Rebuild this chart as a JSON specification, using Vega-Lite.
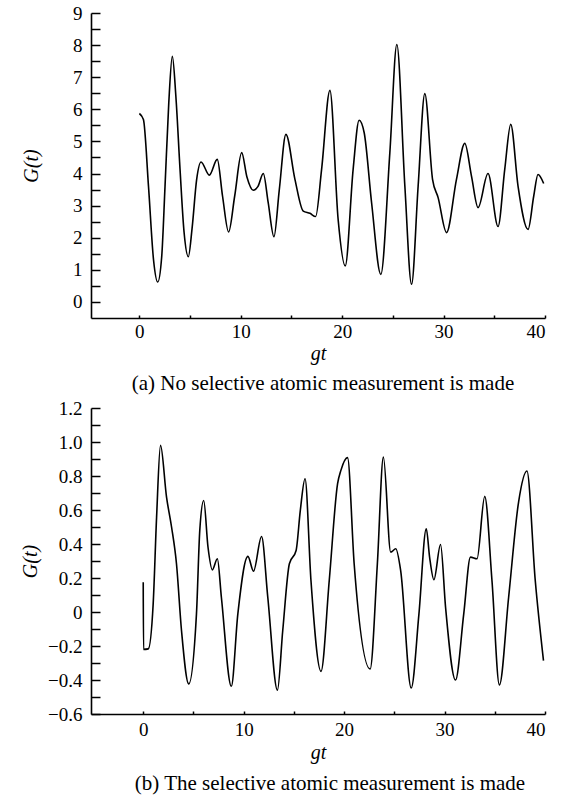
{
  "$schema": "https://vega.github.io/schema/vega-lite/v6.json",
  "background": "white",
  "padding": {"left": 20, "top": 4, "right": 5, "bottom": 5},
  "spacing": 5,
  "config": {
    "view": {"stroke": null},
    "font": "'Liberation Serif', 'Times New Roman', 'DejaVu Serif', serif",
    "axis": {
      "grid": false,
      "domainColor": "black",
      "domainWidth": 1.6,
      "tickColor": "black",
      "tickWidth": 1.5,
      "labelFont": "'Liberation Serif', 'Times New Roman', 'DejaVu Serif', serif",
      "labelFontSize": 19,
      "labelColor": "black",
      "titleFont": "'Liberation Serif', 'Times New Roman', 'DejaVu Serif', serif",
      "titleFontSize": 20,
      "titleFontWeight": "normal",
      "titleFontStyle": "italic",
      "titleColor": "black"
    },
    "title": {"font": "'Liberation Serif', 'Times New Roman', 'DejaVu Serif', serif", "fontSize": 21, "fontWeight": "normal", "color": "black"}
  },
  "datasets": {
    "a": [
      {"x": 0.0, "y": 5.87}, {"x": 0.4, "y": 5.68}, {"x": 0.9, "y": 3.6}, {"x": 1.4, "y": 1.3},
      {"x": 1.81, "y": 0.62}, {"x": 2.2, "y": 1.4}, {"x": 2.53, "y": 3.6}, {"x": 2.9, "y": 6.2},
      {"x": 3.25, "y": 7.65}, {"x": 3.6, "y": 6.4}, {"x": 4.01, "y": 4.13}, {"x": 4.4, "y": 2.2},
      {"x": 4.83, "y": 1.41}, {"x": 5.2, "y": 2.3}, {"x": 5.65, "y": 3.82}, {"x": 6.08, "y": 4.36},
      {"x": 6.9, "y": 3.95}, {"x": 7.68, "y": 4.44}, {"x": 8.2, "y": 3.3}, {"x": 8.8, "y": 2.18},
      {"x": 9.4, "y": 3.3}, {"x": 10.09, "y": 4.65}, {"x": 10.6, "y": 3.9}, {"x": 11.23, "y": 3.48},
      {"x": 11.7, "y": 3.6}, {"x": 12.22, "y": 4.0}, {"x": 12.7, "y": 3.1}, {"x": 13.27, "y": 2.03},
      {"x": 13.8, "y": 3.5}, {"x": 14.45, "y": 5.22}, {"x": 15.34, "y": 3.82}, {"x": 16.16, "y": 2.83},
      {"x": 16.82, "y": 2.76}, {"x": 17.38, "y": 2.66}, {"x": 17.97, "y": 4.13}, {"x": 18.79, "y": 6.59},
      {"x": 19.6, "y": 2.57}, {"x": 20.3, "y": 1.12}, {"x": 21.08, "y": 4.13}, {"x": 21.67, "y": 5.66},
      {"x": 22.17, "y": 5.27}, {"x": 22.9, "y": 3.09}, {"x": 23.81, "y": 0.86}, {"x": 24.7, "y": 4.65},
      {"x": 25.39, "y": 8.02}, {"x": 26.18, "y": 3.61}, {"x": 26.84, "y": 0.55}, {"x": 27.49, "y": 3.61},
      {"x": 28.15, "y": 6.49}, {"x": 28.91, "y": 3.82}, {"x": 29.46, "y": 3.25}, {"x": 30.29, "y": 2.16},
      {"x": 31.27, "y": 3.82}, {"x": 32.09, "y": 4.94}, {"x": 32.75, "y": 3.92}, {"x": 33.4, "y": 2.94},
      {"x": 34.38, "y": 4.0}, {"x": 35.37, "y": 2.35}, {"x": 36.03, "y": 4.13}, {"x": 36.62, "y": 5.53},
      {"x": 37.34, "y": 3.61}, {"x": 38.33, "y": 2.26}, {"x": 38.89, "y": 3.3}, {"x": 39.31, "y": 3.97},
      {"x": 39.87, "y": 3.69}
    ],
    "b": [
      {"x": 0.0, "y": 0.175}, {"x": 0.03, "y": -0.22}, {"x": 0.5, "y": -0.217}, {"x": 0.99, "y": 0.048},
      {"x": 1.33, "y": 0.558}, {"x": 1.72, "y": 0.98}, {"x": 2.32, "y": 0.676}, {"x": 2.82, "y": 0.5},
      {"x": 3.31, "y": 0.284}, {"x": 3.81, "y": -0.109}, {"x": 4.53, "y": -0.423}, {"x": 5.3, "y": -0.011},
      {"x": 5.63, "y": 0.48}, {"x": 6.02, "y": 0.656}, {"x": 6.45, "y": 0.381}, {"x": 6.88, "y": 0.248},
      {"x": 7.38, "y": 0.313}, {"x": 7.78, "y": 0.087}, {"x": 8.77, "y": -0.437}, {"x": 9.42, "y": -0.011},
      {"x": 10.42, "y": 0.327}, {"x": 10.98, "y": 0.24}, {"x": 11.78, "y": 0.444}, {"x": 12.4, "y": 0.087},
      {"x": 13.36, "y": -0.46}, {"x": 13.89, "y": -0.109}, {"x": 14.55, "y": 0.284}, {"x": 15.22, "y": 0.362},
      {"x": 15.64, "y": 0.598}, {"x": 16.11, "y": 0.784}, {"x": 16.7, "y": 0.185}, {"x": 17.7, "y": -0.349},
      {"x": 18.52, "y": 0.185}, {"x": 19.35, "y": 0.755}, {"x": 19.68, "y": 0.833}, {"x": 20.34, "y": 0.908},
      {"x": 21.0, "y": 0.284}, {"x": 22.59, "y": -0.335}, {"x": 23.31, "y": 0.284}, {"x": 23.91, "y": 0.911},
      {"x": 24.64, "y": 0.352}, {"x": 25.14, "y": 0.372}, {"x": 25.63, "y": 0.244}, {"x": 26.68, "y": -0.447},
      {"x": 27.45, "y": -0.011}, {"x": 28.18, "y": 0.49}, {"x": 28.51, "y": 0.323}, {"x": 28.94, "y": 0.19},
      {"x": 29.6, "y": 0.397}, {"x": 30.1, "y": 0.028}, {"x": 31.09, "y": -0.4}, {"x": 31.91, "y": -0.011},
      {"x": 32.58, "y": 0.323}, {"x": 33.23, "y": 0.313}, {"x": 34.0, "y": 0.68}, {"x": 34.72, "y": 0.185},
      {"x": 35.46, "y": -0.429}, {"x": 36.38, "y": 0.087}, {"x": 37.37, "y": 0.647}, {"x": 38.2, "y": 0.829},
      {"x": 39.03, "y": 0.185}, {"x": 39.85, "y": -0.286}
    ]
  },
  "vconcat": [
    {
      "width": 454,
      "height": 305,
      "title": {"text": "(a) No selective atomic measurement is made", "orient": "bottom", "offset": 10, "dx": 5},
      "data": {"name": "a"},
      "mark": {"type": "line", "color": "black", "strokeWidth": 1.6, "interpolate": "monotone"},
      "encoding": {
        "x": {
          "field": "x", "type": "quantitative",
          "scale": {"domain": [-4.77, 40], "nice": false, "zero": false},
          "axis": {
            "title": "gt", "values": [0, 5, 10, 15, 20, 25, 30, 35, 40],
            "labelExpr": "datum.value % 10 === 0 ? format(datum.value, 'd') : ''",
            "tickSize": -3, "labelPadding": 7, "titlePadding": 2
          }
        },
        "y": {
          "field": "y", "type": "quantitative",
          "scale": {"domain": [-0.5, 9], "nice": false, "zero": false},
          "axis": {
            "title": "G(t)",
            "values": [0, 0.5, 1, 1.5, 2, 2.5, 3, 3.5, 4, 4.5, 5, 5.5, 6, 6.5, 7, 7.5, 8, 8.5, 9],
            "labelExpr": "datum.value % 1 === 0 ? format(datum.value, 'd') : ''",
            "tickSize": -9, "labelPadding": 18, "titlePadding": 31
          }
        }
      }
    },
    {
      "width": 454,
      "height": 306,
      "title": {"text": "(b) The selective atomic measurement is made", "orient": "bottom", "offset": 11, "dx": 12},
      "data": {"name": "b"},
      "mark": {"type": "line", "color": "black", "strokeWidth": 1.6, "interpolate": "monotone"},
      "encoding": {
        "x": {
          "field": "x", "type": "quantitative",
          "scale": {"domain": [-5.2, 40], "nice": false, "zero": false},
          "axis": {
            "title": "gt", "values": [0, 5, 10, 15, 20, 25, 30, 35, 40],
            "labelExpr": "datum.value % 10 === 0 ? format(datum.value, 'd') : ''",
            "tickSize": -3, "labelPadding": 9, "titlePadding": 3
          }
        },
        "y": {
          "field": "y", "type": "quantitative",
          "scale": {"domain": [-0.6, 1.2], "nice": false, "zero": false},
          "axis": {
            "title": "G(t)",
            "values": [-0.6, -0.5, -0.4, -0.3, -0.2, -0.1, 0, 0.1, 0.2, 0.3, 0.4, 0.5, 0.6, 0.7, 0.8, 0.9, 1.0, 1.1, 1.2],
            "labelExpr": "abs(round(datum.value * 10)) % 2 === 0 ? (abs(datum.value) < 0.001 ? '0' : format(datum.value, '.1f')) : ''",
            "tickSize": -9, "labelPadding": 18, "titlePadding": 7
          }
        }
      }
    }
  ]
}
